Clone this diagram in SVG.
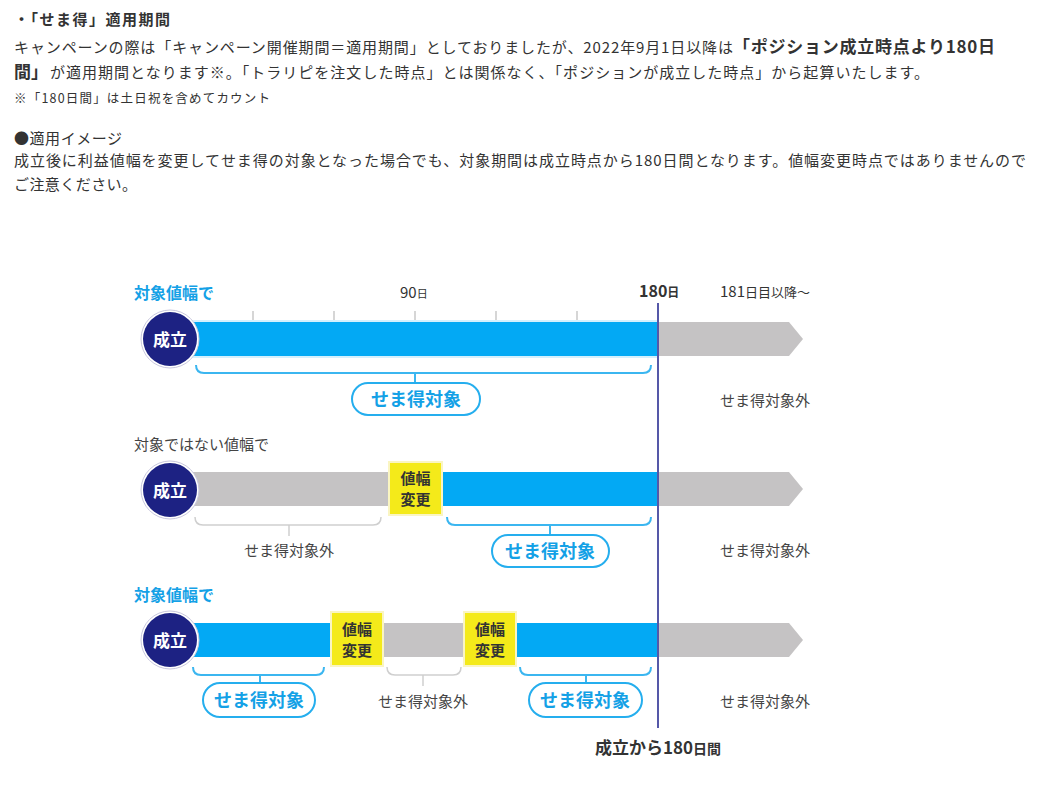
<svg xmlns="http://www.w3.org/2000/svg" width="1051" height="787" viewBox="0 0 1051 787">
<style>
text{font-family:"Noto Sans CJK JP","Noto Sans",sans-serif;fill:#333}
.b{font-weight:bold}
.blue{fill:#14a1e6}
.lbl{font-size:15px;fill:#444}
.circ-o{fill:#fff;stroke:#c9c8de;stroke-width:1}
.circ{fill:#1d2283}
.ct{font-size:17px;font-weight:bold;fill:#fff;text-anchor:middle}
.bar-b{fill:#03a9f4}
.bar-bl{fill:#d4f0fd}
.bar-g{fill:#c5c3c4}
.ybox{fill:#f4ea1a;stroke:#faf5c2;stroke-width:2}
.yt{font-size:15px;font-weight:bold;fill:#333;text-anchor:middle}
.pill{fill:#fff;stroke:#25aeee;stroke-width:2}
.pt{font-size:18px;font-weight:bold;fill:#14a1e6;text-anchor:middle}
.br-b{fill:none;stroke:#3bb6f0;stroke-width:2}
.br-g{fill:none;stroke:#cfcfcf;stroke-width:1.5}
.tick{stroke:#d6d6d6;stroke-width:2}
.out{font-size:15px;fill:#444;text-anchor:middle}
.vline{stroke:#5558a8;stroke-width:2}
</style>

<g id="intro">
<text x="14" y="25" class="b" font-size="15" textLength="156" lengthAdjust="spacing">・「せま得」適用期間</text>
<text x="14" y="53" font-size="15" textLength="719" lengthAdjust="spacing">キャンペーンの際は「キャンペーン開催期間＝適用期間」としておりましたが、2022年9月1日以降は</text>
<text x="733" y="53" class="b" font-size="17" textLength="262" lengthAdjust="spacing">「ポジション成立時点より180日</text>
<text x="14" y="78" class="b" font-size="17" textLength="34" lengthAdjust="spacing">間」</text>
<text x="50" y="78" font-size="15" textLength="879" lengthAdjust="spacing">が適用期間となります※。「トラリピを注文した時点」とは関係なく、「ポジションが成立した時点」から起算いたします。</text>
<text x="14" y="103" font-size="12.5" textLength="256" lengthAdjust="spacing">※「180日間」は土日祝を含めてカウント</text>
<text x="14" y="144" font-size="15" textLength="108" lengthAdjust="spacing">●適用イメージ</text>
<text x="14" y="166" font-size="15" textLength="1012" lengthAdjust="spacing">成立後に利益値幅を変更してせま得の対象となった場合でも、対象期間は成立時点から180日間となります。値幅変更時点ではありませんので</text>
<text x="14" y="190" font-size="15" textLength="123" lengthAdjust="spacing">ご注意ください。</text>
</g>

<g id="axis">
<text x="134" y="299" class="b blue" font-size="16">対象値幅で</text>
<text x="400" y="298" font-size="15" fill="#555">90<tspan font-size="11">日</tspan></text>
<text x="639" y="297" class="b" font-size="16">180<tspan font-size="12">日</tspan></text>
<text x="720" y="297" font-size="15" fill="#555">181<tspan font-size="13">日目以降〜</tspan></text>
<line class="tick" x1="253" y1="311" x2="253" y2="320"/>
<line class="tick" x1="334" y1="311" x2="334" y2="320"/>
<line class="tick" x1="415" y1="311" x2="415" y2="320"/>
<line class="tick" x1="496" y1="311" x2="496" y2="320"/>
<line class="tick" x1="577" y1="311" x2="577" y2="320"/>
</g>

<g id="row1">
<rect class="bar-bl" x="170" y="320" width="488" height="38"/>
<rect class="bar-b" x="170" y="322" width="488" height="34"/>
<polygon class="bar-g" points="658,322 789,322 803,339 789,356 658,356"/>
</g>
<g id="row1-start">
<circle class="circ-o" cx="170" cy="339" r="29"/>
<circle class="circ" cx="170" cy="339" r="27"/>
<text class="ct" x="170" y="346">成立</text>
</g>

<g id="row2">
<text x="134" y="450" class="lbl">対象ではない値幅で</text>
<rect class="bar-g" x="170" y="472" width="219" height="34"/>
<rect class="bar-b" x="442" y="472" width="216" height="34"/>
<polygon class="bar-g" points="658,472 789,472 803,489 789,506 658,506"/>
</g>
<g id="row2-start">
<circle class="circ-o" cx="170" cy="490" r="29"/>
<circle class="circ" cx="170" cy="490" r="27"/>
<text class="ct" x="170" y="497">成立</text>
</g>
<g id="row2-change">
<rect class="ybox" x="389" y="462" width="53" height="53"/>
<text class="yt" x="415.5" y="484">値幅</text>
<text class="yt" x="415.5" y="505">変更</text>
</g>

<g id="row3">
<text x="134" y="601" class="b blue" font-size="16">対象値幅で</text>
<rect class="bar-b" x="170" y="623" width="161" height="34"/>
<rect class="bar-g" x="383" y="623" width="81" height="34"/>
<rect class="bar-b" x="516" y="623" width="142" height="34"/>
<polygon class="bar-g" points="658,623 789,623 803,640 789,657 658,657"/>
</g>
<g id="row3-start">
<circle class="circ-o" cx="170" cy="640" r="29"/>
<circle class="circ" cx="170" cy="640" r="27"/>
<text class="ct" x="170" y="647">成立</text>
</g>
<g id="row3-change1">
<rect class="ybox" x="331" y="612" width="52" height="54"/>
<text class="yt" x="357" y="635">値幅</text>
<text class="yt" x="357" y="656">変更</text>
</g>
<g id="row3-change2">
<rect class="ybox" x="464" y="612" width="52" height="54"/>
<text class="yt" x="490" y="635">値幅</text>
<text class="yt" x="490" y="656">変更</text>
</g>

<g id="connectors">
<line class="vline" x1="658" y1="303" x2="658" y2="728"/>
<path class="br-b" d="M196 365 Q196 373 204 373 H643 Q651 373 651 365 M415 373 V383"/>
<path class="br-g" d="M195 517 Q195 525 203 525 H373 Q381 525 381 517 M289 525 V536"/>
<path class="br-b" d="M447 517 Q447 525 455 525 H643 Q651 525 651 517 M550 525 V535"/>
<path class="br-b" d="M193 667 Q193 675 201 675 H316 Q324 675 324 667 M260 675 V683"/>
<path class="br-g" d="M387 667 Q387 675 395 675 H453 Q461 675 461 667 M423 675 V686"/>
<path class="br-b" d="M520 667 Q520 675 528 675 H643 Q651 675 651 667 M586 675 V683"/>
</g>

<g id="pill1">
<rect class="pill" x="352" y="383" width="128" height="32" rx="16"/>
<text class="pt" x="416" y="406">せま得対象</text>
</g>
<g id="out1"><text class="out" x="765" y="406">せま得対象外</text></g>

<g id="out2a"><text class="out" x="289" y="556">せま得対象外</text></g>
<g id="pill2">
<rect class="pill" x="492" y="535" width="117" height="32" rx="16"/>
<text class="pt" x="550" y="558">せま得対象</text>
</g>
<g id="out2b"><text class="out" x="765" y="556">せま得対象外</text></g>

<g id="pill3a">
<rect class="pill" x="203" y="683" width="112" height="34" rx="17"/>
<text class="pt" x="259" y="707">せま得対象</text>
</g>
<g id="out3a"><text class="out" x="423" y="707">せま得対象外</text></g>
<g id="pill3b">
<rect class="pill" x="529" y="683" width="113" height="34" rx="17"/>
<text class="pt" x="585" y="707">せま得対象</text>
</g>
<g id="out3b"><text class="out" x="765" y="707">せま得対象外</text></g>

<g id="footer">
<text x="595" y="754" class="b" font-size="17">成立から180<tspan font-size="14">日間</tspan></text>
</g>
</svg>
